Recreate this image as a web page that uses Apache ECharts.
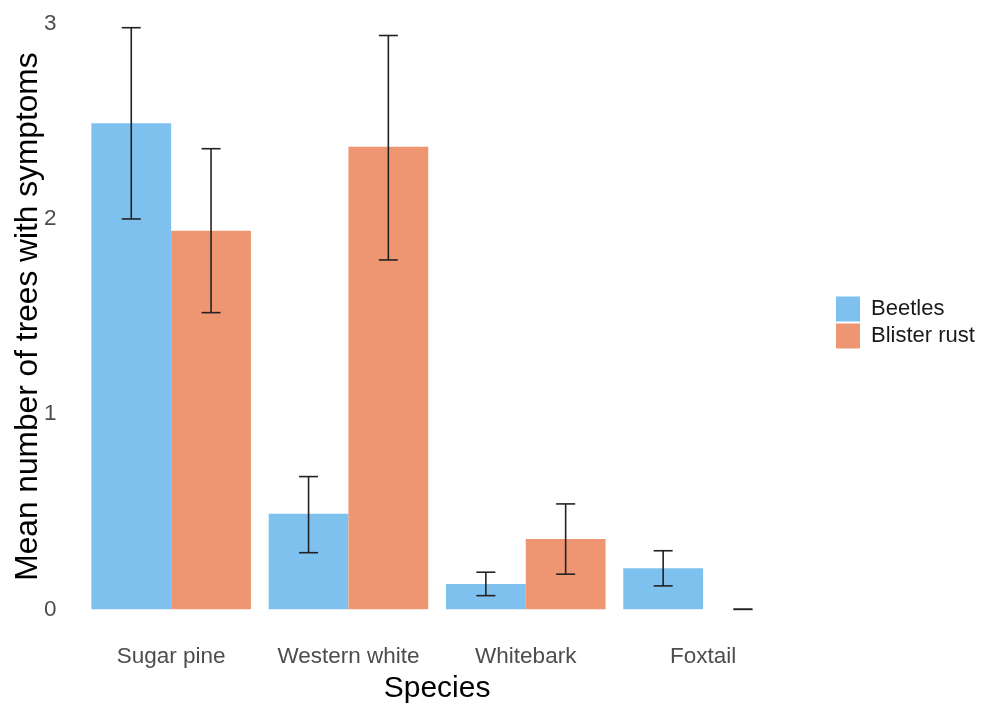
<!DOCTYPE html>
<html>
<head>
<meta charset="utf-8">
<script src="https://cdn.jsdelivr.net/npm/echarts@6/dist/echarts.min.js"></script>
<style>
html,body{margin:0;padding:0;background:#fff;}
#chart{width:986px;height:703px;}
</style>
</head>
<body>
<div id="chart"></div>
<script>
var categories = ['Sugar pine', 'Western white', 'Whitebark', 'Foxtail'];
var seriesNames = ['Beetles', 'Blister rust'];
var beetles = [2.49, 0.49, 0.13, 0.21];
var beetlesLow = [2.00, 0.29, 0.07, 0.12];
var beetlesHigh = [2.98, 0.68, 0.19, 0.30];
var rust = [1.94, 2.37, 0.36, 0];
var rustLow = [1.52, 1.79, 0.18, 0];
var rustHigh = [2.36, 2.94, 0.54, 0];
var yTicks = [0, 1, 2, 3];

var FONT = 'Liberation Sans, Arial, Helvetica, sans-serif';
var colors = ['#7EC0EE', '#EE9572'];

function errData(low, high) {
  return categories.map(function (c, i) { return [i, low[i], high[i]]; });
}

function errRenderer(groupIndex) {
  return function (params, api) {
    var idx = api.value(0);
    var lo = api.coord([idx, api.value(1)]);
    var hi = api.coord([idx, api.value(2)]);
    var band = api.size([1, 0])[0];
    var offset = band * 0.9 / 4 * (groupIndex === 0 ? -1 : 1);
    var x = lo[0] + offset;
    var cap = 9.5;
    var style = { stroke: '#222', lineWidth: 1.6, fill: null };
    return {
      type: 'group',
      children: [
        { type: 'line', shape: { x1: x, y1: lo[1], x2: x, y2: hi[1] }, style: style },
        { type: 'line', shape: { x1: x - cap, y1: lo[1], x2: x + cap, y2: lo[1] }, style: style },
        { type: 'line', shape: { x1: x - cap, y1: hi[1], x2: x + cap, y2: hi[1] }, style: style }
      ]
    };
  };
}

var chart = echarts.init(document.getElementById('chart'), null, { renderer: 'canvas' });
chart.setOption({
  animation: false,
  backgroundColor: '#fff',
  textStyle: { fontFamily: FONT },
  grid: { left: 82.5, right: 194.3, top: 23.8, bottom: 93.7, containLabel: false, outerBoundsMode: 'none' },
  legend: {
    data: seriesNames,
    orient: 'vertical',
    left: 836,
    top: 296.5,
    padding: 0,
    itemWidth: 24,
    itemHeight: 25,
    itemGap: 2,
    icon: 'rect',
    textStyle: { fontSize: 22, color: '#1a1a1a', fontFamily: FONT, padding: [0, 0, 0, 6] }
  },
  xAxis: {
    type: 'category',
    data: categories,
    name: 'Species',
    nameLocation: 'middle',
    nameGap: 64,
    nameMoveOverlap: false,
    nameTextStyle: { fontSize: 30, color: '#000', fontFamily: FONT },
    axisLine: { show: false },
    axisTick: { show: false },
    splitLine: { show: false },
    axisLabel: { interval: 0, fontSize: 22.5, color: '#4d4d4d', margin: 36, fontFamily: FONT }
  },
  yAxis: {
    type: 'value',
    min: yTicks[0],
    max: yTicks[yTicks.length - 1],
    interval: 1,
    name: 'Mean number of trees with symptoms',
    nameLocation: 'middle',
    nameGap: 38,
    nameMoveOverlap: false,
    nameTextStyle: { fontSize: 31.7, color: '#000', fontFamily: FONT },
    axisLine: { show: false },
    axisTick: { show: false },
    splitLine: { show: false },
    axisLabel: { fontSize: 22.5, color: '#4d4d4d', margin: 26, fontFamily: FONT }
  },
  series: [
    {
      name: seriesNames[0], type: 'bar', data: beetles,
      barGap: '0%', barCategoryGap: '10%',
      itemStyle: { color: colors[0] }
    },
    {
      name: seriesNames[1], type: 'bar', data: rust,
      barGap: '0%', barCategoryGap: '10%',
      itemStyle: { color: colors[1] }
    },
    {
      type: 'custom', name: 'errBeetles', data: errData(beetlesLow, beetlesHigh),
      renderItem: errRenderer(0), encode: { x: 0, y: [1, 2] }, z: 10, silent: true
    },
    {
      type: 'custom', name: 'errRust', data: errData(rustLow, rustHigh),
      renderItem: errRenderer(1), encode: { x: 0, y: [1, 2] }, z: 10, silent: true
    }
  ]
});
</script>
</body>
</html>
